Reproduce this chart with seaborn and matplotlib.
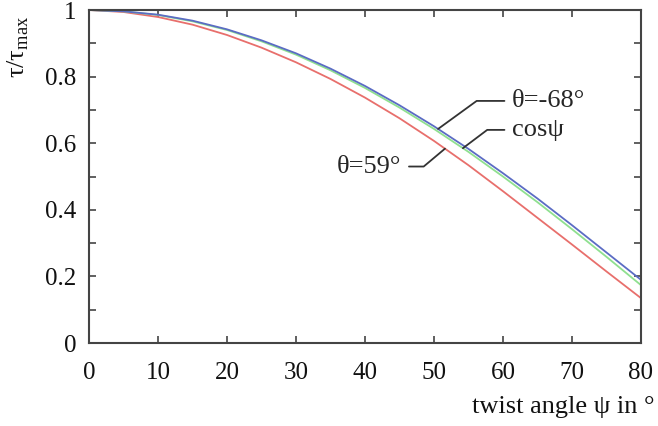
import numpy as np
import pandas as pd
import matplotlib
matplotlib.use("Agg")
import matplotlib.pyplot as plt
import seaborn as sns
from matplotlib.ticker import MultipleLocator

# twist angle psi in degrees
psi = [0, 5, 10, 15, 20, 25, 30, 35, 40, 45, 50, 55, 60, 65, 70, 75, 80]

# normalized torque tau/tau_max
tau_m68 = [1.0, 0.996, 0.986, 0.968, 0.942, 0.909, 0.870, 0.824, 0.772,
           0.714, 0.651, 0.583, 0.510, 0.434, 0.354, 0.272, 0.190]
tau_cos = [1.0, 0.996, 0.985, 0.966, 0.940, 0.906, 0.866, 0.819, 0.766,
           0.707, 0.643, 0.574, 0.500, 0.423, 0.342, 0.259, 0.174]
tau_p59 = [1.0, 0.994, 0.979, 0.956, 0.925, 0.887, 0.843, 0.793, 0.737,
           0.675, 0.607, 0.534, 0.456, 0.376, 0.296, 0.215, 0.135]

series = ["θ=59°", "cosψ", "θ=-68°"]
colors = ["#e86f6c", "#8fe08f", "#5b6cc4"]

x_ticks = [0, 10, 20, 30, 40, 50, 60, 70, 80]
y_ticks = [0, 0.2, 0.4, 0.6, 0.8, 1.0]
y_tick_labels = ["0", "0.2", "0.4", "0.6", "0.8", "1"]

df = pd.concat([
    pd.DataFrame({"psi": psi, "tau": tau_p59, "curve": series[0]}),
    pd.DataFrame({"psi": psi, "tau": tau_cos, "curve": series[1]}),
    pd.DataFrame({"psi": psi, "tau": tau_m68, "curve": series[2]}),
])

sns.set_style("ticks")
plt.rcParams["font.family"] = ["Liberation Serif", "DejaVu Serif"]
plt.rcParams["mathtext.fontset"] = "custom"
plt.rcParams["mathtext.rm"] = "Liberation Serif"

fig = plt.figure(figsize=(6.58, 4.26), dpi=100)
ax = fig.add_axes([0.1353, 0.1948, 0.8387, 0.7817])

sns.lineplot(data=df, x="psi", y="tau", hue="curve", palette=colors,
             hue_order=series, linewidth=1.3, legend=False, ax=ax)

ax.set_xlim(0, 80)
ax.set_ylim(0, 1)
ax.set_xticks(x_ticks)
ax.set_yticks(y_ticks)
ax.set_yticklabels(y_tick_labels)
ax.yaxis.set_minor_locator(MultipleLocator(0.1))
ax.tick_params(which="both", direction="in", top=True, right=True,
               length=5, width=1.2, color="#444444", labelsize=18,
               labelcolor="#111111")
ax.tick_params(axis="x", pad=14)
ax.tick_params(axis="y", pad=9)
for s in ax.spines.values():
    s.set_color("#444444")
    s.set_linewidth(1.5)

ax.set_xlabel("twist angle ψ in °", fontsize=19, color="#111111")
ax.xaxis.set_label_coords(1.025, -0.16)
ax.xaxis.label.set_ha("right")
ax.set_ylabel(r"$\mathrm{τ/τ}_{\mathrm{max}}$", fontsize=19, color="#111111")
ax.yaxis.set_label_coords(-0.105, 0.89)


def curve_at(x, ys):
    return float(np.interp(x, psi, ys))


lead = dict(arrowstyle="-", color="#333333", lw=1.3, shrinkA=3, shrinkB=0)
ax.annotate("θ=-68°", xy=(50.6, curve_at(50.6, tau_m68)), xytext=(61.3, 0.727),
            fontsize=19, va="center", ha="left",
            arrowprops=dict(lead, relpos=(0, 0.5),
                            connectionstyle="angle,angleA=0,angleB=36,rad=0"))
ax.annotate("cosψ", xy=(54.2, curve_at(54.2, tau_cos)), xytext=(61.3, 0.640),
            fontsize=19, va="center", ha="left",
            arrowprops=dict(lead, relpos=(0, 0.5),
                            connectionstyle="angle,angleA=0,angleB=37,rad=0"))
ax.annotate("θ=59°", xy=(51.6, curve_at(51.6, tau_p59)), xytext=(45.3, 0.530),
            fontsize=19, va="center", ha="right",
            arrowprops=dict(lead, relpos=(1, 0.5),
                            connectionstyle="angle,angleA=0,angleB=-140,rad=0"))

fig.savefig("out.png", dpi=100)
